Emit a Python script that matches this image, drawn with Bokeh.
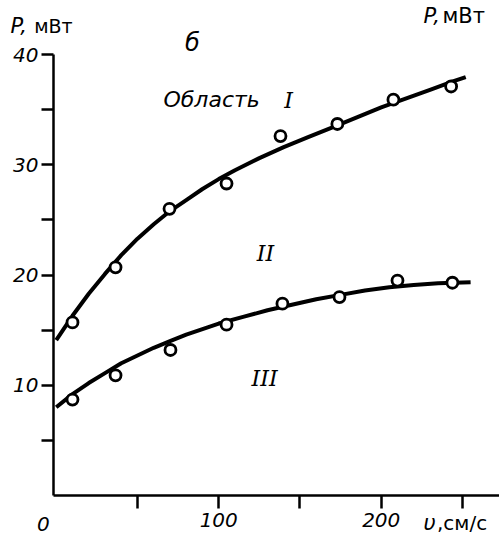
from bokeh.plotting import figure
from bokeh.models import Range1d, FixedTicker, Label
from bokeh.embed import file_html
from bokeh.resources import INLINE

# Fitted curves: velocity v (cm/s), power P (mW)
curve_upper_v = [0, 10, 20, 30, 40, 50, 60, 70, 80, 90, 100, 110, 125, 140, 155, 170, 185, 200, 215, 230, 245, 252]
curve_upper_p = [14.1, 16.3, 18.3, 20.1, 21.8, 23.3, 24.6, 25.8, 26.8, 27.8, 28.7, 29.5, 30.6, 31.6, 32.5, 33.4, 34.3, 35.2, 36.0, 36.8, 37.6, 37.95]

curve_lower_v = [0, 10, 20, 30, 40, 50, 60, 70, 80, 90, 100, 115, 130, 145, 160, 175, 190, 205, 220, 235, 245, 255]
curve_lower_p = [8.0, 9.2, 10.2, 11.1, 12.0, 12.7, 13.4, 14.0, 14.6, 15.1, 15.6, 16.2, 16.8, 17.3, 17.8, 18.2, 18.6, 18.9, 19.1, 19.25, 19.3, 19.35]

# Measured points
pts_upper_v = [10.0, 36.5, 69.7, 104.8, 138.0, 173.0, 207.5, 243.0]
pts_upper_p = [15.7, 20.7, 26.0, 28.3, 32.6, 33.7, 35.9, 37.1]

pts_lower_v = [10.0, 36.5, 70.3, 104.8, 139.2, 174.3, 210.0, 243.8]
pts_lower_p = [8.7, 10.9, 13.2, 15.5, 17.4, 18.0, 19.5, 19.3]

x_ticks = [50, 100, 150, 200, 250]
x_labels = {50: "", 100: "100", 150: "", 200: "200", 250: ""}
y_ticks = [5, 10, 15, 20, 25, 30, 35, 40]
y_labels = {5: "", 10: "10", 15: "", 20: "20", 25: "", 30: "30", 35: "", 40: "40"}

FONT = "DejaVu Sans"
X0 = -1.69      # where the vertical axis stands
X1 = 272.78

p = figure(width=499, height=539, output_backend="svg", toolbar_location=None,
           x_range=Range1d(-34.3, X1), y_range=Range1d(-3.99, 44.9),
           min_border_left=0, min_border_right=0, min_border_top=0, min_border_bottom=0)
p.grid.visible = False
p.outline_line_color = None
p.background_fill_color = "white"
p.border_fill_color = "white"

xa = p.xaxis[0]
xa.fixed_location = 0
xa.bounds = (X0, X1)
xa.ticker = FixedTicker(ticks=x_ticks)
xa.major_label_overrides = x_labels
xa.major_tick_out = 13
xa.major_tick_in = 0
xa.minor_tick_out = 0
xa.minor_tick_in = 0
xa.axis_line_width = 2.5
xa.major_tick_line_width = 2.5
xa.major_label_text_font = FONT
xa.major_label_text_font_style = "italic"
xa.major_label_text_font_size = "20px"
xa.major_label_text_color = "black"
xa.major_label_standoff = 4

ya = p.yaxis[0]
ya.fixed_location = X0
ya.ticker = FixedTicker(ticks=y_ticks)
ya.major_label_overrides = y_labels
ya.bounds = (0, 40)
ya.major_tick_out = 12
ya.major_tick_in = 0
ya.minor_tick_out = 0
ya.minor_tick_in = 0
ya.axis_line_width = 2.5
ya.major_tick_line_width = 2.5
ya.major_label_text_font = FONT
ya.major_label_text_font_style = "italic"
ya.major_label_text_font_size = "20px"
ya.major_label_text_color = "black"
ya.major_label_standoff = 3

p.line(curve_upper_v, curve_upper_p, line_color="black", line_width=4)
p.line(curve_lower_v, curve_lower_p, line_color="black", line_width=4)
for vs, ps in ((pts_upper_v, pts_upper_p), (pts_lower_v, pts_lower_p)):
    p.scatter(vs, ps, marker="circle", size=11, fill_color="white",
              line_color="black", line_width=2.8)

def lab(x, y, text, size, style="normal", align="left", font=FONT):
    p.add_layout(Label(x=x, y=y, text=text,
                       text_font=font, text_font_size=size,
                       text_font_style=style, text_align=align,
                       text_baseline="middle", text_color="black"))

lab(-28.15, 42.6, "P,", "21px", "italic")
lab(-13.6, 42.6, "мВт", "19px")
lab(-7.85, -2.54, "0", "20px", "italic", "center")
lab(226.0, -2.45, "υ", "21px", "italic")
lab(234.3, -2.45, ",см/с", "20px")

lab(83.8, 41.0, "б", "24px", "italic", "center")
lab(66.0, 35.9, "Область", "22px", "italic")
lab(143.0, 35.8, "I", "22px", "italic", "center", font="DejaVu Serif")
lab(128.8, 21.95, "II", "22px", "italic", "center", font="DejaVu Serif")
lab(128.2, 10.6, "III", "22px", "italic", "center", font="DejaVu Serif")
lab(226.0, 43.5, "P,", "21px", "italic")
lab(237.7, 43.5, "мВт", "21px")

open("out.html", "w").write(file_html(p, INLINE))
